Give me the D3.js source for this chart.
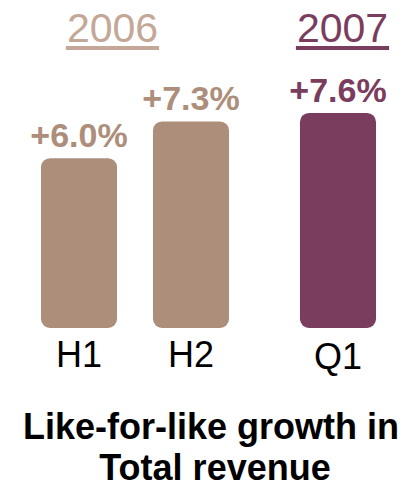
<!DOCTYPE html>
<html>
<head>
<meta charset="utf-8">
<script src="https://cdn.jsdelivr.net/npm/d3@7"></script>
<style>
  html, body { margin: 0; padding: 0; background: #fff; }
  svg { display: block; font-family: "Liberation Sans", Arial, sans-serif; }
</style>
</head>
<body>
<div id="chart"></div>
<script>
// Dados
const periods = ["H1", "H2", "Q1"];
const periodYear = ["2006", "2006", "2007"];
const growth = [6.0, 7.3, 7.6];
const valueLabels = ["+6.0%", "+7.3%", "+7.6%"];
const years = ["2006", "2007"];
const titleLines = ["Like-for-like growth in", "Total revenue"];

// Configurações
const width = 407, height = 488;
const barColor = { "2006": "#ad8e7a", "2007": "#7a3d5d" };
const yearColor = { "2006": "#c4a797", "2007": "#7a3d5d" };
const groupGap = 35;

const svg = d3.select("#chart").append("svg")
  .attr("width", width)
  .attr("height", height);

// Escalas
const x = d3.scaleBand()
  .domain(periods)
  .range([41, 341])
  .paddingInner(0.321)
  .paddingOuter(0);

const y = d3.scaleLinear()
  .domain([0, 8])
  .range([328, 101.6]);

const yearX = d3.scalePoint()
  .domain(years)
  .range([112.5, 342.5]);

const barX = i => x(periods[i]) + years.indexOf(periodYear[i]) * groupGap;

const data = periods.map((p, i) => ({
  period: p, year: periodYear[i], value: growth[i], label: valueLabels[i], i
}));

// Barras
svg.selectAll(".bar")
  .data(data)
  .enter().append("rect")
  .attr("class", "bar")
  .attr("x", d => barX(d.i))
  .attr("y", d => y(d.value))
  .attr("width", x.bandwidth())
  .attr("height", d => y(0) - y(d.value))
  .attr("rx", 9)
  .attr("ry", 9)
  .attr("fill", d => barColor[d.year]);

// Rótulos de valor
svg.selectAll(".value")
  .data(data)
  .enter().append("text")
  .attr("class", "value")
  .attr("x", d => barX(d.i) + x.bandwidth() / 2)
  .attr("y", d => y(d.value) - 11)
  .attr("text-anchor", "middle")
  .attr("font-size", 34)
  .attr("font-weight", "bold")
  .attr("fill", d => barColor[d.year])
  .text(d => d.label);

// Rótulos das categorias
svg.selectAll(".cat")
  .data(data)
  .enter().append("text")
  .attr("class", "cat")
  .attr("x", d => barX(d.i) + x.bandwidth() / 2)
  .attr("y", d => y(0) + 39 + (d.year === "2007" ? 2 : 0))
  .attr("text-anchor", "middle")
  .attr("font-size", 36)
  .attr("fill", "#000")
  .text(d => d.period);

// Títulos dos anos (sublinhados)
const yg = svg.selectAll(".year")
  .data(years)
  .enter().append("g")
  .attr("class", "year");

yg.append("text")
  .attr("x", d => yearX(d))
  .attr("y", 42)
  .attr("text-anchor", "middle")
  .attr("font-size", 41)
  .attr("fill", d => yearColor[d])
  .text(d => d);

yg.each(function(d) {
  const bb = d3.select(this).select("text").node().getBBox();
  d3.select(this).append("rect")
    .attr("x", bb.x - 1)
    .attr("y", 46)
    .attr("width", bb.width + 2)
    .attr("height", 4)
    .attr("fill", yearColor[d]);
});

// Título
svg.append("text")
  .attr("text-anchor", "middle")
  .attr("font-size", 36)
  .attr("font-weight", "bold")
  .attr("fill", "#000")
  .selectAll("tspan")
  .data(titleLines)
  .enter().append("tspan")
  .attr("x", (d, i) => i ? 215 : 211)
  .attr("y", (d, i) => 439 + i * 41)
  .text(d => d);
</script>
</body>
</html>
